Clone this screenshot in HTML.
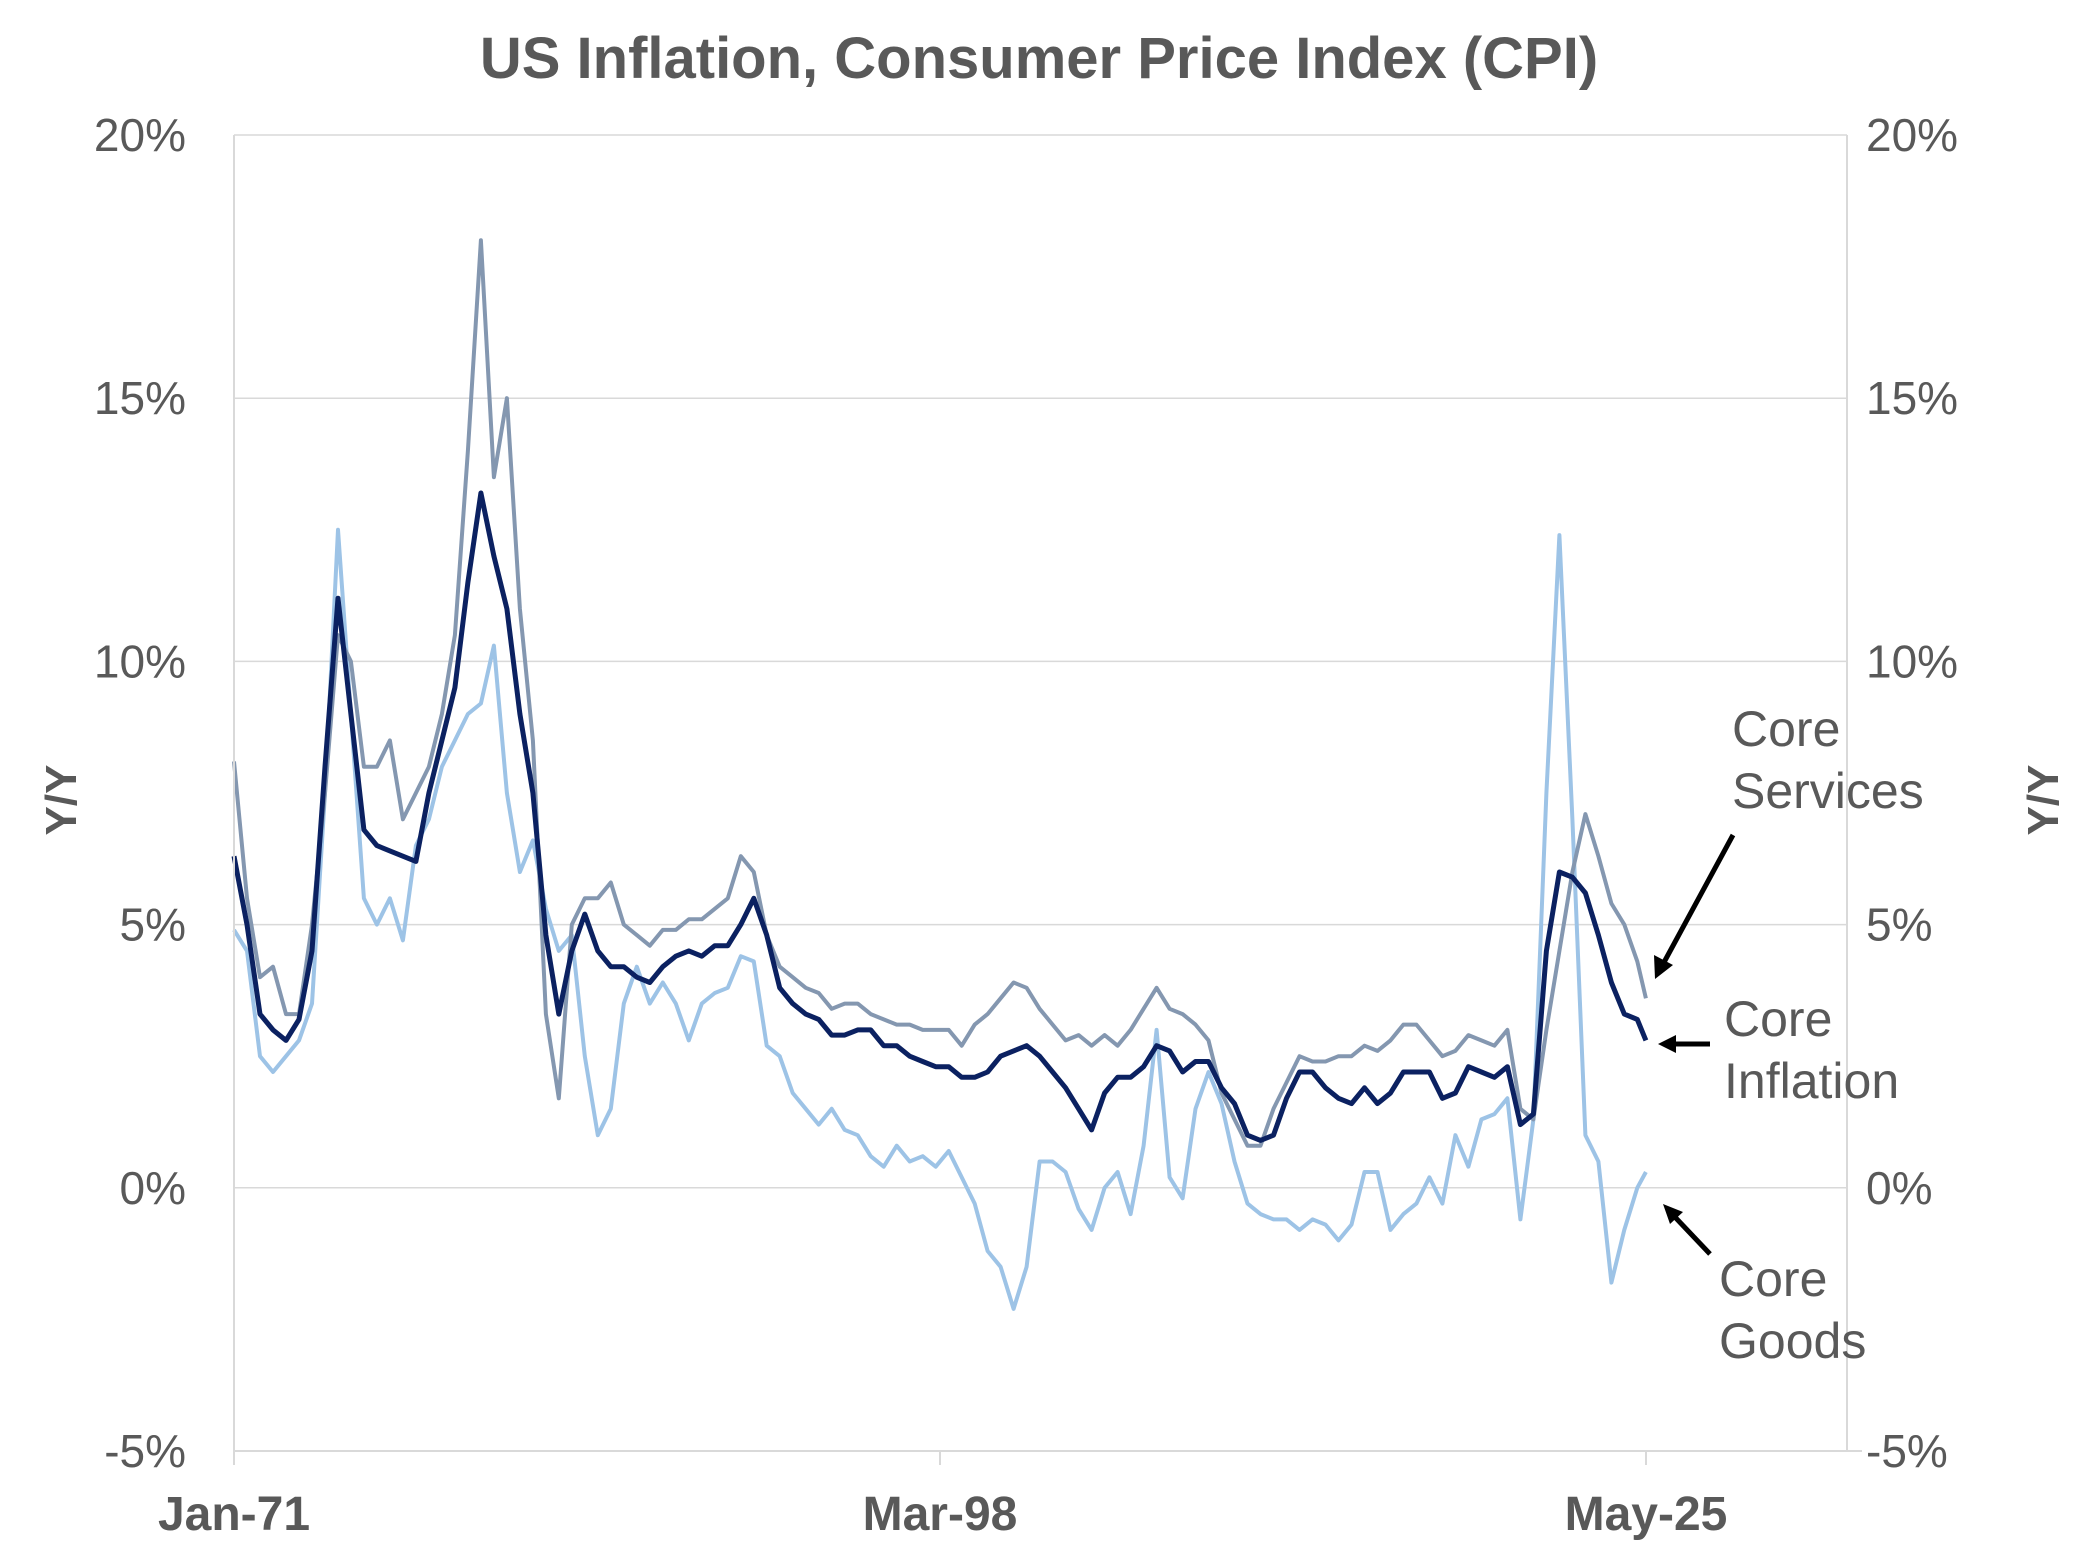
<!DOCTYPE html>
<html><head><meta charset="utf-8">
<style>
html,body{margin:0;padding:0;background:#fff;}
svg{display:block;font-family:"Liberation Sans",sans-serif;}
</style></head>
<body>
<svg id="chart" width="2078" height="1558" viewBox="0 0 2078 1558" xmlns="http://www.w3.org/2000/svg">
<text x="1039" y="78" text-anchor="middle" font-size="58" font-weight="bold" fill="#595959">US Inflation, Consumer Price Index (CPI)</text>
<g id="grid"></g>
<g id="series"></g>
<g id="axes"></g>
<text transform="translate(76,800) rotate(-90)" text-anchor="middle" font-size="44" font-weight="bold" fill="#595959">Y/Y</text>
<text transform="translate(2058,800) rotate(-90)" text-anchor="middle" font-size="44" font-weight="bold" fill="#595959">Y/Y</text>
<g font-size="50" fill="#595959">
<text x="1732" y="746">Core</text><text x="1732" y="808">Services</text>
<line x1="1733" y1="835" x2="1662" y2="966" stroke="#000" stroke-width="5"/>
<polygon points="1655,979 1654,955 1673,965" fill="#000"/>
</g>
<g font-size="50" fill="#595959">
<text x="1724" y="1036">Core</text><text x="1724" y="1098">Inflation</text>
<line x1="1710" y1="1044" x2="1672" y2="1044" stroke="#000" stroke-width="5"/>
<polygon points="1658,1044 1676,1035 1676,1053" fill="#000"/>
</g>
<g font-size="50" fill="#595959">
<text x="1719" y="1296">Core</text><text x="1719" y="1358">Goods</text>
<line x1="1710" y1="1254" x2="1673" y2="1215" stroke="#000" stroke-width="5"/>
<polygon points="1663,1204 1683,1212 1670,1224" fill="#000"/>
</g>
</svg>
<script>
const yTicks=[20,15,10,5,0,-5];
const yTickLabels=["20%","15%","10%","5%","0%","-5%"];
const xTickYears=[1971.0,1998.1667,2025.3333];
const xTickLabels=["Jan-71","Mar-98","May-25"];
const dates=[1971,1971.5,1972,1972.5,1973,1973.5,1974,1974.5,1975,1975.5,1976,1976.5,1977,1977.5,1978,1978.5,1979,1979.5,1980,1980.5,1981,1981.5,1982,1982.5,1983,1983.5,1984,1984.5,1985,1985.5,1986,1986.5,1987,1987.5,1988,1988.5,1989,1989.5,1990,1990.5,1991,1991.5,1992,1992.5,1993,1993.5,1994,1994.5,1995,1995.5,1996,1996.5,1997,1997.5,1998,1998.5,1999,1999.5,2000,2000.5,2001,2001.5,2002,2002.5,2003,2003.5,2004,2004.5,2005,2005.5,2006,2006.5,2007,2007.5,2008,2008.5,2009,2009.5,2010,2010.5,2011,2011.5,2012,2012.5,2013,2013.5,2014,2014.5,2015,2015.5,2016,2016.5,2017,2017.5,2018,2018.5,2019,2019.5,2020,2020.5,2021,2021.5,2022,2022.5,2023,2023.5,2024,2024.5,2025,2025.33];
const coreInflation=[6.3,5,3.3,3,2.8,3.2,4.5,8,11.2,9,6.8,6.5,6.4,6.3,6.2,7.5,8.5,9.5,11.5,13.2,12,11,9,7.5,4.8,3.3,4.5,5.2,4.5,4.2,4.2,4,3.9,4.2,4.4,4.5,4.4,4.6,4.6,5,5.5,4.8,3.8,3.5,3.3,3.2,2.9,2.9,3,3,2.7,2.7,2.5,2.4,2.3,2.3,2.1,2.1,2.2,2.5,2.6,2.7,2.5,2.2,1.9,1.5,1.1,1.8,2.1,2.1,2.3,2.7,2.6,2.2,2.4,2.4,1.9,1.6,1.0,0.9,1.0,1.7,2.2,2.2,1.9,1.7,1.6,1.9,1.6,1.8,2.2,2.2,2.2,1.7,1.8,2.3,2.2,2.1,2.3,1.2,1.4,4.5,6.0,5.9,5.6,4.8,3.9,3.3,3.2,2.8];
const coreServices=[8.1,5.5,4,4.2,3.3,3.3,5,7.5,10.5,10,8,8,8.5,7,7.5,8,9,10.5,14,18,13.5,15,11,8.5,3.3,1.7,5,5.5,5.5,5.8,5,4.8,4.6,4.9,4.9,5.1,5.1,5.3,5.5,6.3,6,4.8,4.2,4,3.8,3.7,3.4,3.5,3.5,3.3,3.2,3.1,3.1,3,3,3,2.7,3.1,3.3,3.6,3.9,3.8,3.4,3.1,2.8,2.9,2.7,2.9,2.7,3,3.4,3.8,3.4,3.3,3.1,2.8,1.8,1.3,0.8,0.8,1.5,2,2.5,2.4,2.4,2.5,2.5,2.7,2.6,2.8,3.1,3.1,2.8,2.5,2.6,2.9,2.8,2.7,3,1.5,1.3,3,4.5,6,7.1,6.3,5.4,5,4.3,3.6];
const coreGoods=[4.9,4.5,2.5,2.2,2.5,2.8,3.5,7.5,12.5,9,5.5,5,5.5,4.7,6.5,7,8,8.5,9,9.2,10.3,7.5,6,6.6,5.3,4.5,4.8,2.5,1,1.5,3.5,4.2,3.5,3.9,3.5,2.8,3.5,3.7,3.8,4.4,4.3,2.7,2.5,1.8,1.5,1.2,1.5,1.1,1,0.6,0.4,0.8,0.5,0.6,0.4,0.7,0.2,-0.3,-1.2,-1.5,-2.3,-1.5,0.5,0.5,0.3,-0.4,-0.8,0,0.3,-0.5,0.8,3,0.2,-0.2,1.5,2.2,1.6,0.5,-0.3,-0.5,-0.6,-0.6,-0.8,-0.6,-0.7,-1,-0.7,0.3,0.3,-0.8,-0.5,-0.3,0.2,-0.3,1,0.4,1.3,1.4,1.7,-0.6,1.3,7.5,12.4,7,1.0,0.5,-1.8,-0.8,0,0.3];

const X0=234, X1=1847, YT=135, YB=1451;
const xPerYear=(1646-234)/(2025.3333-1971);
function xs(t){return X0+(t-1971)*xPerYear;}
function ys(v){return YB-(v+5)/25*(YB-YT);}
const NS="http://www.w3.org/2000/svg";
function mk(tag,attrs,parent){const e=document.createElementNS(NS,tag);for(const k in attrs)e.setAttribute(k,attrs[k]);parent.appendChild(e);return e;}
const grid=document.getElementById('grid'),axes=document.getElementById('axes'),ser=document.getElementById('series');
yTicks.forEach((v,i)=>{
  if(v>-5){const l=mk('line',{x1:X0,x2:X1,y1:ys(v),y2:ys(v),stroke:'#d9d9d9','stroke-width':1.5},grid);
  
  }
  const t=mk('text',{x:186,y:ys(v)+16,'text-anchor':'end','font-size':46,fill:'#595959'},axes);t.textContent=yTickLabels[i];
  
  
  const t2=mk('text',{x:1866,y:ys(v)+16,'text-anchor':'start','font-size':46,fill:'#595959'},axes);t2.textContent=yTickLabels[i];
  
  
});
const la=mk('line',{x1:X0,x2:X0,y1:YT,y2:YB,stroke:'#d9d9d9','stroke-width':2},axes);


const ra=mk('line',{x1:X1,x2:X1,y1:YT,y2:YB,stroke:'#d9d9d9','stroke-width':2},axes);


const xa=mk('line',{x1:X0,x2:X1+15,y1:YB,y2:YB,stroke:'#d9d9d9','stroke-width':2},axes);


xTickYears.forEach((t,i)=>{
  const tk=mk('line',{x1:xs(t),x2:xs(t),y1:YB,y2:YB+14,stroke:'#d9d9d9','stroke-width':2},axes);
  
  
  const tx=mk('text',{x:xs(t),y:1530,'text-anchor':'middle','font-size':48,'font-weight':'bold',fill:'#595959'},axes);tx.textContent=xTickLabels[i];
  
  
});
function line(vals,color,w,name){
  const d=vals.map((v,i)=>(i?'L':'M')+xs(dates[i]).toFixed(1)+','+ys(v).toFixed(1)).join(' ');
  const p=mk('path',{d:d,fill:'none',stroke:color,'stroke-width':w,'stroke-linejoin':'round'},ser);
  
  
}
line(coreGoods,'#9dc3e6',4,'line-core-goods');
line(coreServices,'#8497b0',4,'line-core-services');
line(coreInflation,'#0b2161',5,'line-core-inflation');
</script>
</body></html>
